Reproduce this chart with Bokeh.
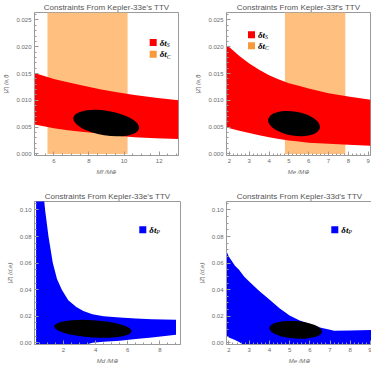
import numpy as np
from bokeh.plotting import figure
from bokeh.layouts import gridplot
from bokeh.models import (Range1d, FixedTicker, PrintfTickFormatter,
                          Label, BoxAnnotation)
from bokeh.embed import file_html
from bokeh.resources import INLINE

# ---------------- data ----------------
titles = ["Constraints From Kepler-33e's TTV", "Constraints From Kepler-33f's TTV",
          "Constraints From Kepler-33e's TTV", "Constraints From Kepler-33d's TTV"]
x_labels = ["Mf /M⊕", "Me /M⊕", "Md /M⊕", "Me /M⊕"]
y_labels = ["|Z| (e,f)", "|Z| (e,f)", "|Z| (d,e)", "|Z| (d,e)"]

# Panel A (top-left): delta t_S band (red), delta t_C interval (orange)
a_x = [4.9, 5.5, 6.0, 6.8, 7.7, 8.7, 9.6, 10.6, 11.8, 13.1]
a_upper = [0.0151, 0.0145, 0.0140, 0.0134, 0.0127, 0.0120, 0.0115, 0.0110, 0.0105, 0.0100]
a_lower = [0.0055, 0.0051, 0.0048, 0.0044, 0.0041, 0.0038, 0.0034, 0.0031, 0.0029, 0.0028]
a_tc = [5.64, 10.2]
a_ell = [8.98, 0.00575, 3.79, 0.0046, -0.16]   # cx, cy, width, height, angle

# Panel B (top-right)
b_x = [1.85, 2.0, 2.5, 3.0, 3.5, 4.0, 4.5, 5.0, 5.5, 6.0, 7.0, 8.0, 9.12]
b_upper = [0.0203, 0.0199, 0.0183, 0.0169, 0.0157, 0.0147, 0.0139, 0.0132, 0.0127, 0.0122, 0.0113, 0.0107, 0.0101]
b_lower = [0.0050, 0.0048, 0.0043, 0.0039, 0.0035, 0.0031, 0.0028, 0.0025, 0.0023, 0.0021, 0.0019, 0.0017, 0.0015]
b_tc = [4.80, 7.85]
b_ell = [5.26, 0.00565, 2.65, 0.0045, -0.16]

# Panel C (bottom-left): delta t_P band (blue)
c_x = [0.3, 0.78, 0.86, 1.07, 1.34, 1.6, 1.9, 2.3, 2.8, 3.24, 3.8, 4.5, 5.5, 6.5, 7.5, 9.0]
c_upper = [0.11, 0.11, 0.100, 0.080, 0.060, 0.048, 0.040, 0.032, 0.027, 0.024, 0.0215, 0.0200, 0.0190, 0.0183, 0.0178, 0.0173]
c_lower = [-0.002, -0.002, -0.002, -0.002, -0.002, -0.002, -0.002, -0.002, -0.002, -0.002, 0.0000, 0.0008, 0.0016, 0.0028, 0.0040, 0.0060]
c_ell = [3.83, 0.0105, 4.83, 0.0130, -0.064]

# Panel D (bottom-right)
d_x = [1.88, 2.0, 2.3, 2.5, 2.75, 3.0, 3.5, 4.0, 4.5, 5.0, 5.5, 6.0, 6.5, 7.0, 7.2, 8.0, 9.1]
d_upper = [0.069, 0.0647, 0.058, 0.055, 0.050, 0.0462, 0.039, 0.0326, 0.026, 0.0205, 0.0168, 0.0141, 0.0115, 0.0098, 0.0091, 0.0093, 0.0097]
d_lower = [0.0052, 0.0040, 0.0020, 0.0005, -0.002, -0.002, -0.002, -0.002, -0.002, -0.002, -0.002, -0.002, -0.002, -0.002, -0.002, -0.002, -0.002]
d_ell = [5.3, 0.00975, 2.61, 0.0132, -0.072]

# axis ranges & ticks
a_xr, b_xr, c_xr, d_xr = (4.9, 13.1), (1.85, 9.12), (0.2, 9.28), (1.88, 9.1)
top_yr, bot_yr = (-0.0003, 0.0264), (-0.0013, 0.1064)
a_xt = [6, 8, 10, 12]
b_xt = [2, 3, 4, 5, 6, 7, 8, 9]
c_xt = [2, 4, 6, 8]
d_xt = [2, 3, 4, 5, 6, 7, 8, 9]
top_yt = [0.0, 0.005, 0.010, 0.015, 0.020, 0.025]
bot_yt = [0.0, 0.02, 0.04, 0.06, 0.08, 0.10]

legend_top = [("#FF0000", "δt", "S"), ("#F89A3C", "δt", "C")]
legend_bot = [("#0000FF", "δt", "P")]

RED, ORANGE_BAND, BLUE = "#FF0000", "#FFBF7F", "#0000FF"
GRAY = "#9a9a9a"
TXT = "#6a6a6a"


def minor(lo, hi, step):
    return list(np.arange(np.ceil(lo / step) * step, hi, step))


def panel(title, xr, yr, xt, xstep_minor, yt, ystep_minor, yfmt, xlab, ylab,
          fw, fh, bl, br, bt, bb):
    p = figure(frame_width=fw, frame_height=fh, x_range=Range1d(*xr), y_range=Range1d(*yr),
               output_backend="svg", toolbar_location=None,
               min_border_left=bl, min_border_right=br, min_border_top=bt, min_border_bottom=bb)
    p.title.text = title
    p.title.text_font = "Liberation Sans"
    p.title.text_font_size = "8px"
    p.title.text_font_style = "normal"
    p.title.text_color = "#555555"
    p.title.align = "center"
    p.title.standoff = 1
    p.grid.visible = False
    p.outline_line_color = GRAY
    p.background_fill_color = "white"

    xtick = FixedTicker(ticks=xt, minor_ticks=minor(xr[0], xr[1], xstep_minor))
    ytick = FixedTicker(ticks=yt, minor_ticks=minor(yr[0], yr[1], ystep_minor))
    for ax, tk, fmt in ((p.xaxis[0], xtick, "%d"), (p.yaxis[0], ytick, yfmt)):
        ax.ticker = tk
        ax.formatter = PrintfTickFormatter(format=fmt)
        ax.major_tick_in = 4
        ax.major_tick_out = 0
        ax.minor_tick_in = 2
        ax.minor_tick_out = 0
        ax.axis_line_color = GRAY
        ax.major_tick_line_color = GRAY
        ax.minor_tick_line_color = GRAY
        ax.major_label_text_font = "Liberation Sans"
        ax.major_label_text_font_size = "6px"
        ax.major_label_text_color = TXT
        ax.major_label_standoff = 3
        ax.axis_label_text_font = "Liberation Sans"
        ax.axis_label_text_font_size = "6px"
        ax.axis_label_text_font_style = "italic"
        ax.axis_label_text_color = TXT
        ax.axis_label_standoff = 3
    p.xaxis.axis_label = xlab
    p.yaxis.axis_label = ylab
    p.yaxis.axis_label_standoff = 4
    return p


def add_legend(p, entries, x0, tops, fh):
    for (color, main, sub), dt in zip(entries, tops):
        y = fh - dt
        p.add_layout(BoxAnnotation(left=x0 - 3.5, right=x0 + 3.5, bottom=y - 3.5, top=y + 3.5,
                                   left_units="screen", right_units="screen",
                                   bottom_units="screen", top_units="screen",
                                   fill_color=color, fill_alpha=1.0, line_alpha=0))
        p.add_layout(Label(x=x0 + 6.5, y=y, x_units="screen", y_units="screen", text=main,
                           text_font="Liberation Serif", text_font_style="bold italic",
                           text_font_size="9px", text_baseline="middle", text_color="black"))
        p.add_layout(Label(x=x0 + 13.5, y=y - 2.5, x_units="screen", y_units="screen", text=sub,
                           text_font="Liberation Serif", text_font_style="italic",
                           text_font_size="6px", text_baseline="middle", text_color="black"))


FH1, FH2 = 143, 143

p1 = panel(titles[0], a_xr, top_yr, a_xt, 0.5, top_yt, 0.001, "%.3f", x_labels[0], y_labels[0],
           144, FH1, 25, 14, 10, 34)
p1.quad(left=[a_tc[0]], right=[a_tc[1]], bottom=[0.0], top=[top_yr[1]],
        fill_color=ORANGE_BAND, line_color=None)
p1.varea(x=a_x, y1=a_lower, y2=a_upper, fill_color=RED)
p1.ellipse(x=[a_ell[0]], y=[a_ell[1]], width=[a_ell[2]], height=[a_ell[3]], angle=[a_ell[4]],
           fill_color="black", line_color=None)
add_legend(p1, legend_top, 118.7, [30, 41.7], FH1)

p2 = panel(titles[1], b_xr, top_yr, b_xt, 0.2, top_yt, 0.001, "%.3f", x_labels[1], y_labels[1],
           144, FH1, 34, 1, 10, 34)
p2.quad(left=[b_tc[0]], right=[b_tc[1]], bottom=[0.0], top=[top_yr[1]],
        fill_color=ORANGE_BAND, line_color=None)
p2.varea(x=b_x, y1=b_lower, y2=b_upper, fill_color=RED)
p2.ellipse(x=[b_ell[0]], y=[b_ell[1]], width=[b_ell[2]], height=[b_ell[3]], angle=[b_ell[4]],
           fill_color="black", line_color=None)
add_legend(p2, legend_top, 25, [22.3, 33.3], FH1)

p3 = panel(titles[2], c_xr, bot_yr, c_xt, 0.5, bot_yt, 0.005, "%.2f", x_labels[2], y_labels[2],
           146, FH2, 23, 14, 10, 26)
p3.varea(x=c_x, y1=c_lower, y2=c_upper, fill_color=BLUE)
p3.ellipse(x=[c_ell[0]], y=[c_ell[1]], width=[c_ell[2]], height=[c_ell[3]], angle=[c_ell[4]],
           fill_color="black", line_color=None)
add_legend(p3, legend_bot, 108.3, [28.3], FH2)

p4 = panel(titles[3], d_xr, bot_yr, d_xt, 0.2, bot_yt, 0.005, "%.2f", x_labels[3], y_labels[3],
           146, FH2, 32, 1, 10, 26)
p4.varea(x=d_x, y1=d_lower, y2=d_upper, fill_color=BLUE)
p4.ellipse(x=[d_ell[0]], y=[d_ell[1]], width=[d_ell[2]], height=[d_ell[3]], angle=[d_ell[4]],
           fill_color="black", line_color=None)
add_legend(p4, legend_bot, 108.3, [28.3], FH2)

grid = gridplot([[p1, p2], [p3, p4]], toolbar_location=None)

open("out.html", "w").write(file_html(grid, INLINE))
